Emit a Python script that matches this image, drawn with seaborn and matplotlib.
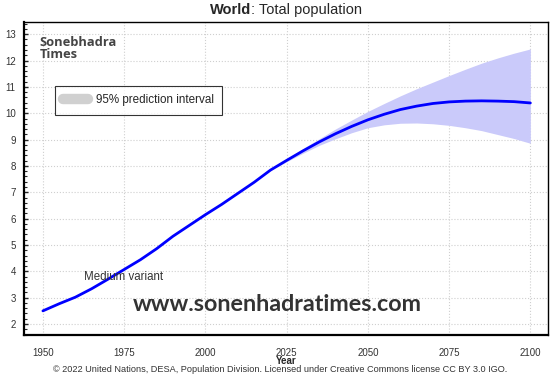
import seaborn as sns
import matplotlib.pyplot as plt
import pandas as pd
from matplotlib.lines import Line2D
from matplotlib.ticker import MultipleLocator

# World population, medium variant (billions)
years = [1950, 1955, 1960, 1965, 1970, 1975, 1980, 1985, 1990, 1995, 2000,
         2005, 2010, 2015, 2020, 2025, 2030, 2035, 2040, 2045, 2050, 2055,
         2060, 2065, 2070, 2075, 2080, 2085, 2090, 2095, 2100]
median = [2.50, 2.77, 3.02, 3.34, 3.70, 4.07, 4.44, 4.86, 5.33, 5.74, 6.15,
          6.54, 6.96, 7.38, 7.84, 8.21, 8.57, 8.91, 9.22, 9.50, 9.75, 9.96,
          10.14, 10.27, 10.37, 10.43, 10.46, 10.47, 10.46, 10.44, 10.39]

# 95% prediction interval
band_years = [2022, 2025, 2030, 2035, 2040, 2045, 2050, 2055, 2060, 2065,
              2070, 2075, 2080, 2085, 2090, 2095, 2100]
lower = [7.96, 8.16, 8.48, 8.78, 9.03, 9.26, 9.45, 9.56, 9.62, 9.63,
         9.60, 9.54, 9.45, 9.34, 9.19, 9.04, 8.86]
upper = [7.98, 8.26, 8.66, 9.03, 9.40, 9.74, 10.07, 10.37, 10.66, 10.93,
         11.18, 11.43, 11.67, 11.90, 12.10, 12.28, 12.44]

df = pd.DataFrame({"Year": years, "Population": median})

sns.set_style("white")
plt.rcParams["font.family"] = ["Liberation Sans", "DejaVu Sans"]

fig = plt.figure(figsize=(5.6, 3.74), dpi=100)
ax = fig.add_axes([0.043, 0.104, 0.936, 0.837])

ax.fill_between(band_years, lower, upper, color="#cacafa", lw=0, zorder=2)
sns.lineplot(data=df, x="Year", y="Population", color="#0000ff", lw=2,
             ax=ax, zorder=3)

ax.set_xlim(1944.2, 2105.5)
ax.set_ylim(1.58, 13.46)
ax.set_xticks(range(1950, 2101, 25))
ax.set_yticks(range(2, 14))
ax.yaxis.set_minor_locator(MultipleLocator(0.2))
ax.grid(True, ls=":", color="#cfcfcf", lw=0.8, zorder=0)

ax.tick_params(axis="x", direction="out", length=5, width=1, pad=4,
               labelsize=7, labelcolor="#333333")
ax.tick_params(axis="y", which="major", direction="in", length=3, width=1,
               pad=6, labelsize=7, labelcolor="#333333", left=True)
ax.tick_params(axis="y", which="minor", direction="in", length=2, width=0.8,
               left=True)
ax.set_xlabel("Year", fontsize=7, fontweight="bold", labelpad=-1)
ax.set_ylabel("")

for side in ["left", "bottom"]:
    ax.spines[side].set_linewidth(1.6)
for side in ["top", "right"]:
    ax.spines[side].set_linewidth(1.0)
for s in ax.spines.values():
    s.set_color("black")

# Title: bold "World" followed by normal text
t1 = fig.text(0.375, 0.962, "World", fontsize=10.5, fontweight="bold",
              va="baseline", ha="left")
ax.annotate(": Total population", xy=(1, 0), xycoords=t1, fontsize=10.5,
            va="bottom", ha="left")

ax.text(0.03, 0.957, "Sonebhadra\nTimes", transform=ax.transAxes,
        fontsize=9.3, fontweight="bold", color="#444444", va="top",
        family="Open Sans", linespacing=0.95)

handle = Line2D([], [], color="#d0d0d0", lw=7.5, solid_capstyle="round")
leg = ax.legend([handle], ["95% prediction interval"], loc="upper left",
                bbox_to_anchor=(0.059, 0.795), borderaxespad=0, fontsize=8.4,
                frameon=True, fancybox=False, edgecolor="black",
                handlelength=2.1, handletextpad=0.7, borderpad=0.7)
leg.get_frame().set_linewidth(0.8)

ax.text(1962.5, 3.78, "Medium variant", fontsize=8.3, color="#333333",
        va="center", ha="left")
ax.text(0.208, 0.097, "www.sonenhadratimes.com", transform=ax.transAxes,
        fontsize=16.8, fontweight="bold", family="Lato", color="#333333",
        va="center", ha="left")

fig.text(0.5, 0.0, "\u00a9 2022 United Nations, DESA, Population Division. "
         "Licensed under Creative Commons license CC BY 3.0 IGO.",
         fontsize=6.6, color="#333333", ha="center", va="bottom")

fig.savefig("out.png", dpi=100)
plt.close()
